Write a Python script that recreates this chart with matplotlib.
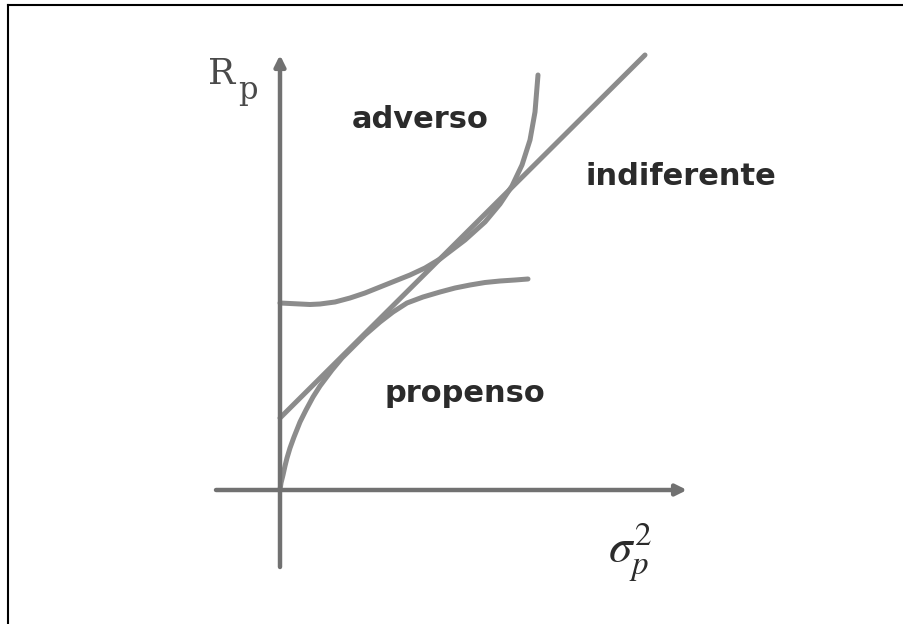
import matplotlib
matplotlib.use("Agg")
import matplotlib.pyplot as plt
from matplotlib.lines import Line2D

# risk (sigma_p^2) and return (R_p) values
adverso_x = [0.00, 0.10, 0.20, 0.30, 0.40, 0.55, 0.70, 0.85, 1.00, 1.15, 1.30, 1.45, 1.60,
             1.85, 2.05, 2.20, 2.32, 2.42, 2.50, 2.55, 2.58]
adverso_y = [1.87, 1.865, 1.86, 1.855, 1.86, 1.88, 1.92, 1.97, 2.03, 2.09, 2.15, 2.22, 2.31,
             2.50, 2.68, 2.86, 3.04, 3.25, 3.50, 3.78, 4.15]

propenso_x = [0.00, 0.01, 0.03, 0.05, 0.07, 0.10, 0.14, 0.20, 0.26, 0.33, 0.40, 0.52, 0.62,
              0.70, 0.85, 1.00, 1.13, 1.27, 1.43, 1.60, 1.75, 1.90, 2.05, 2.20, 2.35, 2.48]
propenso_y = [0.00, 0.07, 0.15, 0.24, 0.32, 0.42, 0.53, 0.68, 0.80, 0.93, 1.04, 1.20, 1.32,
              1.40, 1.55, 1.68, 1.78, 1.87, 1.93, 1.98, 2.02, 2.05, 2.075, 2.09, 2.10, 2.11]

indiferente_x = [0.00, 3.65]
indiferente_y = [0.72, 4.35]

x_axis = [-0.64, 4.07]
y_axis = [-0.77, 4.35]

labels = ["adverso", "indiferente", "propenso"]
label_pos = [(1.40, 3.71), (4.01, 3.14), (1.85, 0.97)]

axis_color = "#717171"
curve_color = "#8c8c8c"
text_color = "#2b2b2b"

fig = plt.figure(figsize=(9.04, 6.24), dpi=100)
ax = fig.add_axes([0, 0, 1, 1])
ax.set_xlim(-2.80, 6.24)
ax.set_ylim(-1.34, 4.90)
ax.axis("off")

# axes with arrow heads
ax.annotate("", xy=(x_axis[1], 0), xytext=(x_axis[0], 0),
            arrowprops=dict(arrowstyle="-|>", color=axis_color, lw=3.2,
                            mutation_scale=16, shrinkA=0, shrinkB=0))
ax.annotate("", xy=(0, y_axis[1]), xytext=(0, y_axis[0]),
            arrowprops=dict(arrowstyle="-|>", color=axis_color, lw=3.2,
                            mutation_scale=16, shrinkA=0, shrinkB=0))

for xs, ys in [(indiferente_x, indiferente_y), (adverso_x, adverso_y),
               (propenso_x, propenso_y)]:
    ax.plot(xs, ys, color=curve_color, lw=3.6, solid_capstyle="round",
            solid_joinstyle="round")

for lab, (tx, ty) in zip(labels, label_pos):
    ax.text(tx, ty, lab, fontsize=22, fontweight="bold", family="DejaVu Sans",
            color=text_color, ha="center", va="center")

# axis titles
ax.text(-0.58, 4.16, "R", fontsize=26, family="DejaVu Serif", color="#4a4a4a",
        ha="center", va="center")
ax.text(-0.32, 4.00, "p", fontsize=22, family="DejaVu Serif", color="#4a4a4a",
        ha="center", va="center")
plt.rcParams["mathtext.fontset"] = "stix"
ax.text(3.50, -0.62, r"$\sigma_p^2$", fontsize=34, color="#2b2b2b",
        ha="center", va="center")

# frame lines (top and left only)
fig.add_artist(Line2D([8 / 904, 1], [1 - 5 / 624, 1 - 5 / 624],
                      transform=fig.transFigure, color="black", lw=1.5))
fig.add_artist(Line2D([8 / 904, 8 / 904], [0, 1 - 5 / 624],
                      transform=fig.transFigure, color="black", lw=1.5))

fig.savefig("out.png", dpi=100)
